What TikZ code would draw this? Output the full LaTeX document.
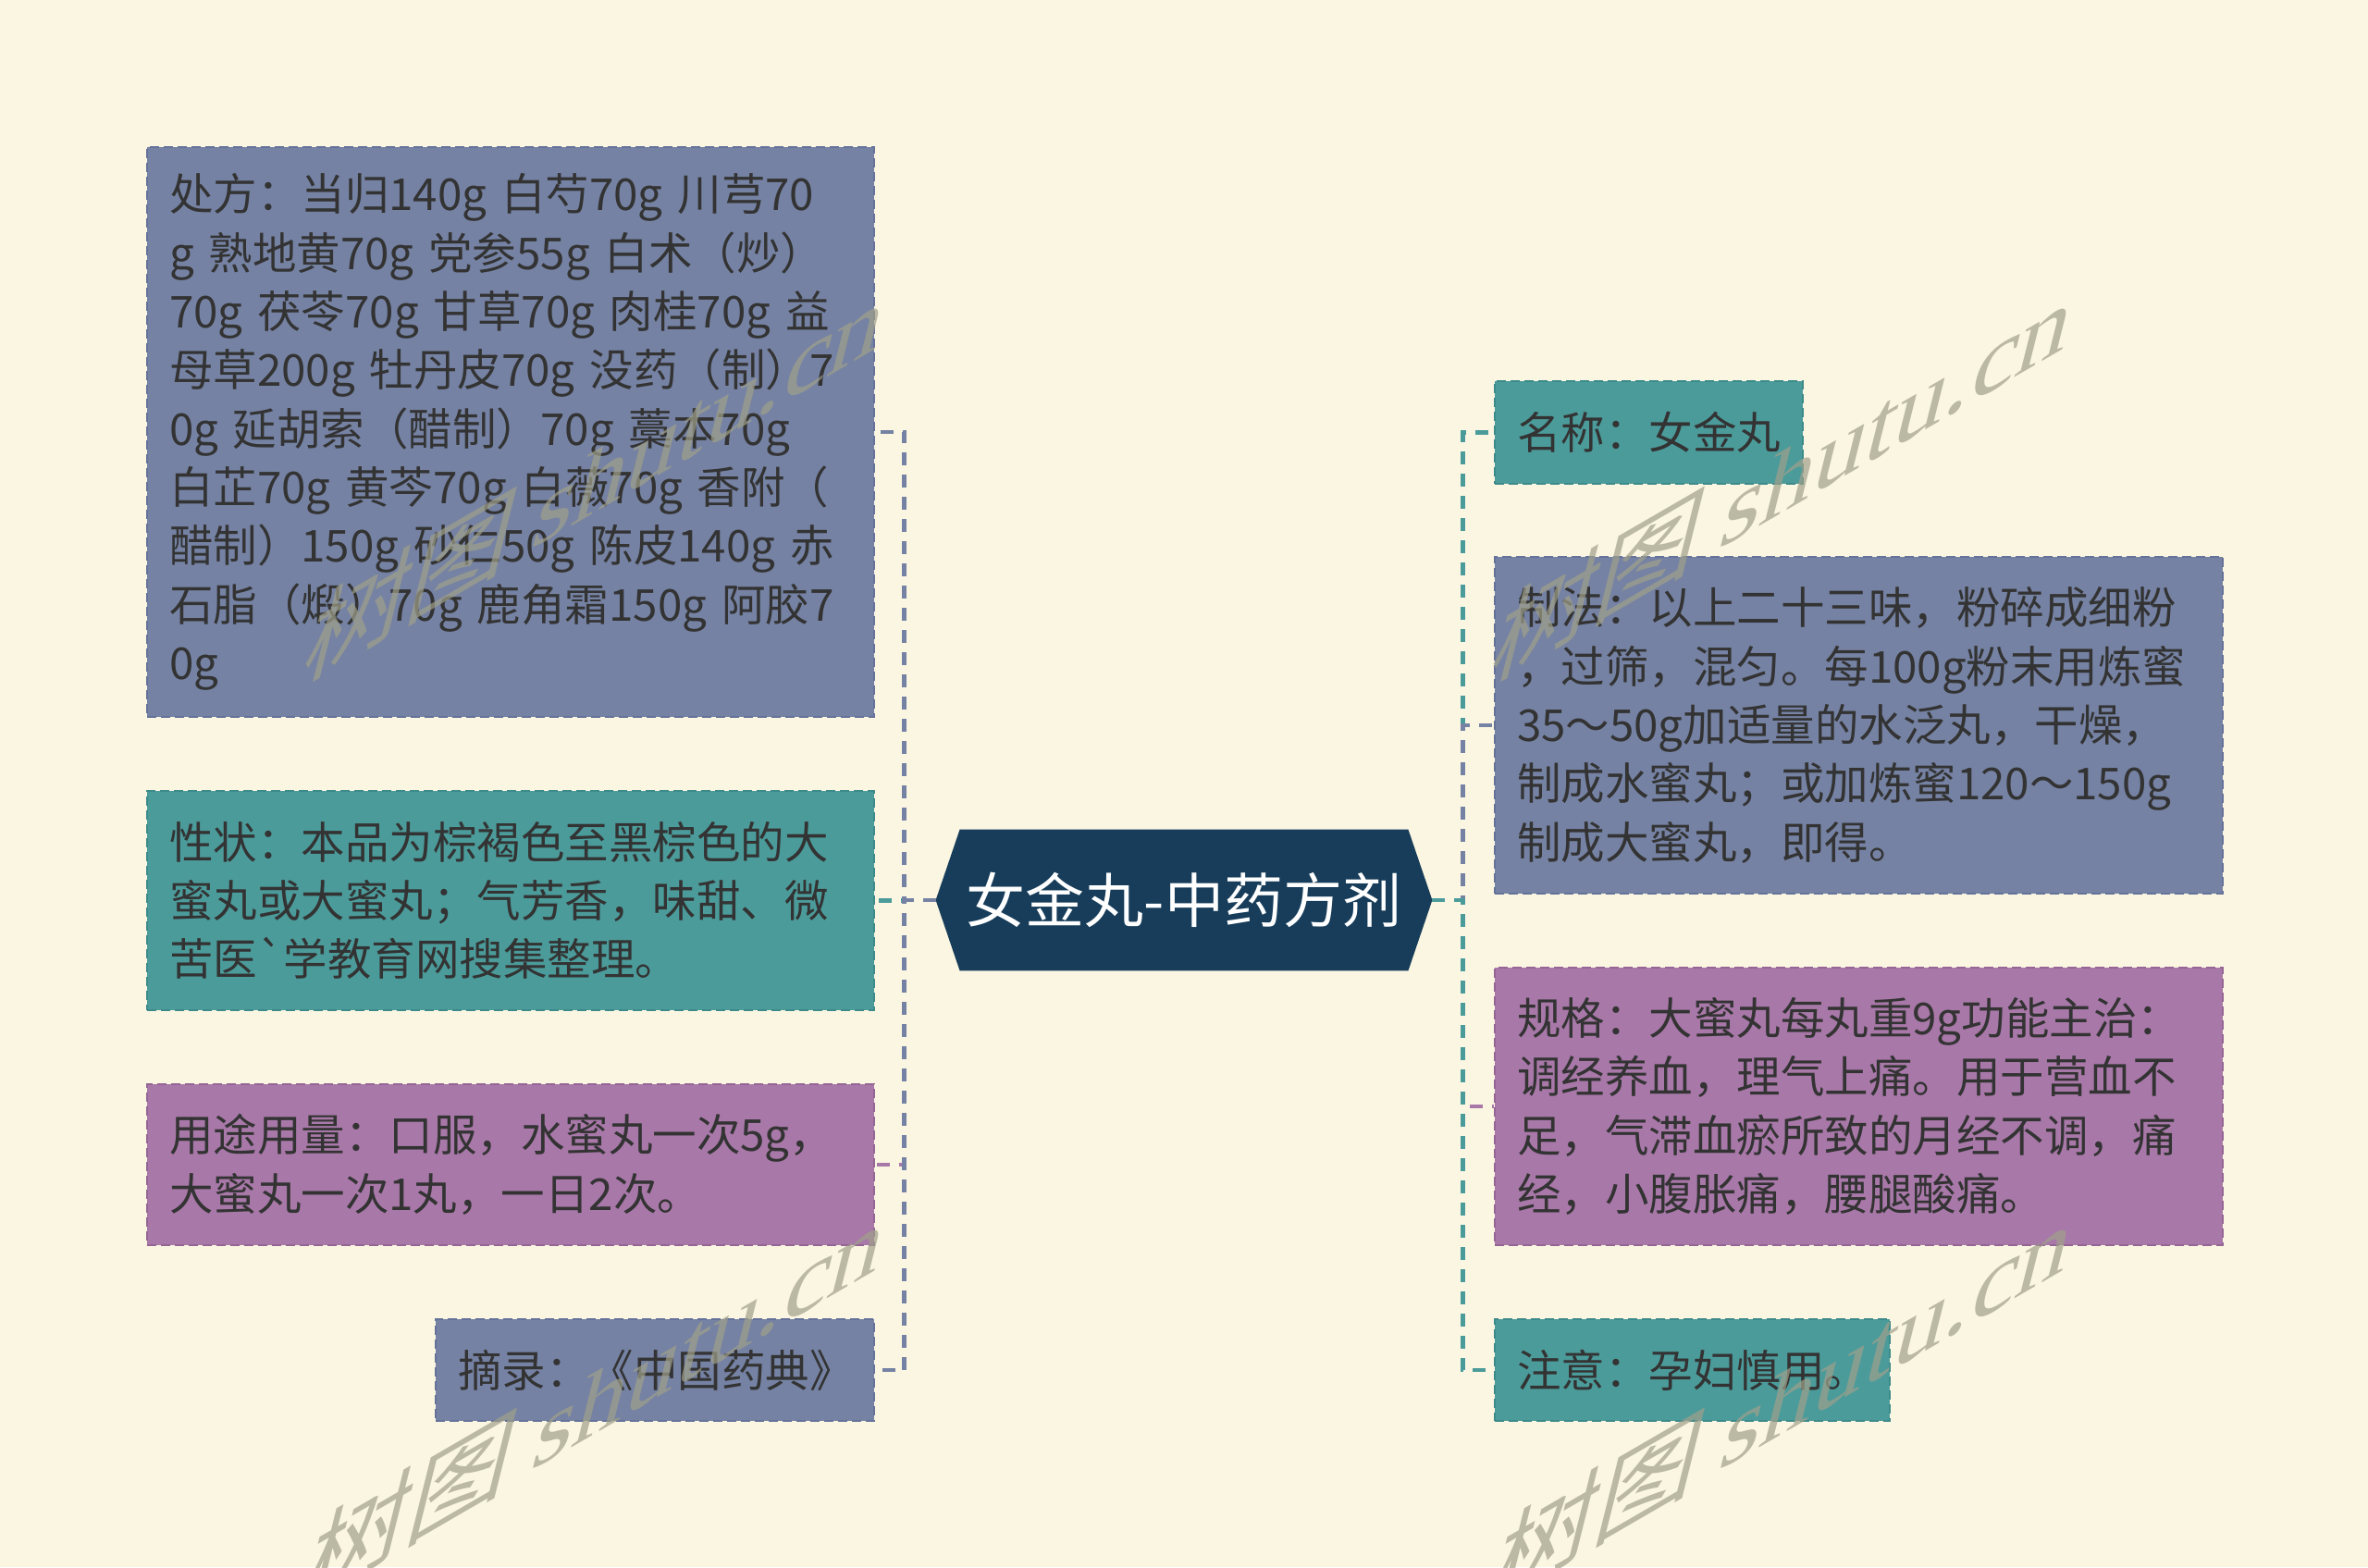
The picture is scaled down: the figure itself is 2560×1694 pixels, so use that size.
\documentclass[tikz,border=0pt]{standalone}
\usepackage{fontspec}
\newfontfamily\cjk{Noto Sans CJK SC}
\newfontfamily\wmserif{Liberation Serif}
\usetikzlibrary{calc}
\definecolor{bgc}{HTML}{FBF6E2}
\definecolor{slate}{HTML}{7582A3}
\definecolor{slateB}{HTML}{65729A}
\definecolor{tealc}{HTML}{4C9B9B}
\definecolor{tealB}{HTML}{3D8A8A}
\definecolor{purp}{HTML}{A878A8}
\definecolor{purpB}{HTML}{956695}
\definecolor{navy}{HTML}{173D5A}
\definecolor{txt}{HTML}{333333}
\definecolor{wmc}{RGB}{160,160,138}
\newcommand{\myl}[1]{\mbox{#1}}
\pgfdeclarelayer{back}
\pgfsetlayers{back,main}
\tikzset{
  box/.style={anchor=north west, inner xsep=12pt, inner ysep=0pt, align=left,
    font=\cjk\fontsize{23.75pt}{31.65pt}\selectfont, text=txt,
    line width=1pt, dash pattern=on 5pt off 2.5pt},
  ctrnode/.style={inner sep=0pt, minimum width=242pt, minimum height=76pt,
    font=\cjk\fontsize{32pt}{38pt}\selectfont, text=white},
  conn/.style={line width=2.2pt, dash pattern=on 7pt off 5pt},
  wm/.style={anchor=base west, inner sep=0pt, text=wmc, text opacity=0.7,
    font=\cjk\fontsize{56pt}{56pt}\selectfont, cm={1,0.58,0.25,1,(0,0)}}
}
\begin{document}
\begin{tikzpicture}[x=0.5pt,y=-0.5pt]
\useasboundingbox (0,0) rectangle (2560,1694);

% centre
\node[ctrnode] (ctr) at (1280,973) {女金丸-中药方剂};
\coordinate (tipL) at ($(ctr.west)+(-26,0)$);
\coordinate (tipR) at ($(ctr.east)+(26,0)$);
\begin{pgfonlayer}{back}
\fill[bgc] (0,0) rectangle (2560,1694);
\fill[navy] (ctr.north west) -- (ctr.north east) -- (tipR) -- (ctr.south east)
  -- (ctr.south west) -- (tipL) -- cycle;
\end{pgfonlayer}

% left boxes
\node[box, fill=slate, draw=slateB, text width=369pt, minimum height=308pt] (b1) at (158,158) {%
\myl{处方：当归140g 白芍70g 川芎70}\\
\myl{g 熟地黄70g 党参55g 白术（炒）}\\
\myl{70g 茯苓70g 甘草70g 肉桂70g 益}\\
\myl{母草200g 牡丹皮70g 没药（制）7}\\
\myl{0g 延胡索（醋制）70g 藁本70g}\\
\myl{白芷70g 黄芩70g 白薇70g 香附（}\\
\myl{醋制）150g 砂仁50g 陈皮140g 赤}\\
\myl{石脂（煅）70g 鹿角霜150g 阿胶7}\\
\myl{0g}};

\node[box, fill=tealc, draw=tealB, text width=369pt, minimum height=118.5pt] (b2) at (158,854) {%
\myl{性状：本品为棕褐色至黑棕色的大}\\
\myl{蜜丸或大蜜丸；气芳香，味甜、微}\\
\myl{苦医`学教育网搜集整理。}};

\node[box, fill=purp, draw=purpB, text width=369pt, minimum height=87pt] (b3) at (158,1171) {%
\myl{用途用量：口服，水蜜丸一次5g，}\\
\myl{大蜜丸一次1丸，一日2次。}};

\node[box, fill=slate, draw=slateB, text width=213pt, minimum height=55pt] (b4) at (470,1425) {%
\myl{摘录：《中国药典》}};

% right boxes
\node[box, fill=tealc, draw=tealB, text width=142.5pt, minimum height=55.5pt] (r1) at (1615,411) {%
\myl{名称：女金丸}};

\node[box, fill=slate, draw=slateB, text width=369.5pt, minimum height=182pt] (r2) at (1615,601) {%
\myl{制法：以上二十三味，粉碎成细粉}\\
\myl{，过筛，混匀。每100g粉末用炼蜜}\\
\myl{35～50g加适量的水泛丸，干燥，}\\
\myl{制成水蜜丸；或加炼蜜120～150g}\\
\myl{制成大蜜丸，即得。}};

\node[box, fill=purp, draw=purpB, text width=369.5pt, minimum height=150pt] (r3) at (1615,1045) {%
\myl{规格：大蜜丸每丸重9g功能主治：}\\
\myl{调经养血，理气上痛。用于营血不}\\
\myl{足，气滞血瘀所致的月经不调，痛}\\
\myl{经，小腹胀痛，腰腿酸痛。}};

\node[box, fill=tealc, draw=tealB, text width=189.5pt, minimum height=55pt] (r4) at (1615,1425) {%
\myl{注意：孕妇慎用。}};

% connectors left
\draw[conn, draw=slate] (tipL) -- ++(-34,0) |- (b1.east);
\draw[conn, draw=tealc] (tipL) -- ++(-34,0) |- (b2.east);
\draw[conn, draw=purp] (tipL) -- ++(-34,0) |- (b3.east);
\draw[conn, draw=slate] (tipL) -- ++(-34,0) |- (b4.east);
% connectors right
\draw[conn, draw=tealc] (tipR) -- ++(33,0) |- (r1.west);
\draw[conn, draw=slate] (tipR) -- ++(33,0) |- (r2.west);
\draw[conn, draw=purp] (tipR) -- ++(33,0) |- (r3.west);
\draw[conn, draw=tealc] (tipR) -- ++(33,0) |- (r4.west);

% watermarks
\node[wm] (wm1) at (322,740) {树图 {\wmserif shutu.cn}};
\node[wm] (wm2) at (1606,740) {树图 {\wmserif shutu.cn}};
\node[wm] (wm3) at (322,1736) {树图 {\wmserif shutu.cn}};
\node[wm] (wm4) at (1606,1736) {树图 {\wmserif shutu.cn}};
\end{tikzpicture}
\end{document}
